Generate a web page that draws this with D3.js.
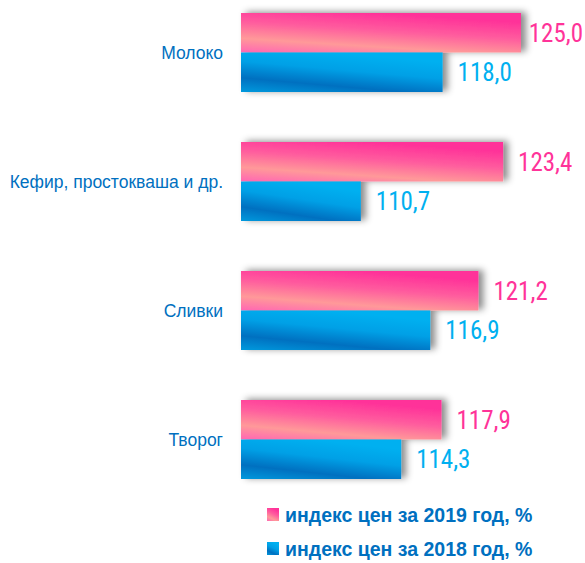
<!DOCTYPE html>
<html>
<head>
<meta charset="utf-8">
<script src="https://d3js.org/d3.v7.min.js"></script>
<style>
	body, html {
		margin: 0;
		padding: 0;
		background: #fff;
	}
	.cat-label {
		font-family: "Liberation Sans", Arial, sans-serif;
		font-size: 17.5px;
		fill: #0070C0;
		text-anchor: end;
	}
	.val-label {
		font-family: "Liberation Sans Narrow", "Roboto Condensed", "Arial Narrow", sans-serif;
		font-size: 25px;
	}
	.legend-text {
		font-family: "Liberation Sans", Arial, sans-serif;
		font-weight: bold;
		font-size: 19.5px;
		fill: #0070C0;
	}
</style>
</head>
<body>
<script>
	var categories = ["Молоко", "Кефир, простокваша и др.", "Сливки", "Творог"];
	var series = ["2019", "2018"];
	var values2019 = [125.0, 123.4, 121.2, 117.9];
	var values2018 = [118.0, 110.7, 116.9, 114.3];
	var legendLabels = ["индекс цен за 2019 год, %", "индекс цен за 2018 год, %"];

	var w = 585, h = 563;
	var margin = {top: 13, left: 241};

	var data = categories.map(function(c, i) {
		return {key: c, values: [
			{s: "2019", v: values2019[i]},
			{s: "2018", v: values2018[i]}
		]};
	});

	var x = d3.scaleLinear()
		.domain([100, 125])
		.range([0, 280]);

	// 129px per group, 79px of bars in each
	var y = d3.scaleBand()
		.domain(categories)
		.range([0, 3 * 129 + 79])
		.paddingInner(50 / 129)
		.paddingOuter(0);

	var ySub = d3.scaleBand()
		.domain(series)
		.range([0, y.bandwidth()]);

	var fillColor = {"2019": "url(#gradPink)", "2018": "url(#gradBlue)"};
	var textColor = {"2019": "#FF3399", "2018": "#00B0F0"};

	var svg = d3.select("body").append("svg")
		.attr("width", w)
		.attr("height", h);

	var defs = svg.append("defs");

	var gp = defs.append("linearGradient")
		.attr("id", "gradPink")
		.attr("x1", "0").attr("y1", "1").attr("x2", "0.45").attr("y2", "0");
	gp.append("stop").attr("offset", "0").attr("stop-color", "#FF66B3");
	gp.append("stop").attr("offset", "0.3").attr("stop-color", "#FF9999");
	gp.append("stop").attr("offset", "0.65").attr("stop-color", "#FF5C9E");
	gp.append("stop").attr("offset", "1").attr("stop-color", "#FF3399");

	var gb = defs.append("linearGradient")
		.attr("id", "gradBlue")
		.attr("x1", "0").attr("y1", "1").attr("x2", "0.45").attr("y2", "0");
	gb.append("stop").attr("offset", "0").attr("stop-color", "#0099DD");
	gb.append("stop").attr("offset", "0.3").attr("stop-color", "#0070C0");
	gb.append("stop").attr("offset", "0.65").attr("stop-color", "#00A0E6");
	gb.append("stop").attr("offset", "1").attr("stop-color", "#00B0F0");

	var shadow = defs.append("filter")
		.attr("id", "shadow")
		.attr("x", "-20%").attr("y", "-40%")
		.attr("width", "140%").attr("height", "180%");
	shadow.append("feDropShadow")
		.attr("dx", 5).attr("dy", -1)
		.attr("stdDeviation", 3.5)
		.attr("flood-color", "#000")
		.attr("flood-opacity", 0.45);

	var chart = svg.append("g")
		.attr("transform", "translate(" + margin.left + "," + margin.top + ")");

	var groups = chart.selectAll(".group")
		.data(data)
		.enter().append("g")
		.attr("class", "group")
		.attr("transform", function(d) { return "translate(0," + y(d.key) + ")"; });

	groups.append("g")
		.attr("filter", "url(#shadow)")
		.selectAll("rect")
		.data(function(d) { return d.values; })
		.enter().append("rect")
		.attr("x", 0)
		.attr("y", function(d) { return ySub(d.s); })
		.attr("width", function(d) { return x(d.v); })
		.attr("height", ySub.bandwidth())
		.attr("fill", function(d) { return fillColor[d.s]; });

	groups.selectAll(".val-label")
		.data(function(d) { return d.values; })
		.enter().append("text")
		.attr("class", "val-label")
		.attr("x", function(d) { return x(d.v) + 15; })
		.attr("y", function(d) { return ySub(d.s) + ySub.bandwidth() / 2; })
		.attr("dy", "0.36em")
		.style("fill", function(d) { return textColor[d.s]; })
		.text(function(d) { return d.v.toFixed(1).replace(".", ","); })
		.each(function() {
			// keep labels inside the picture
			var len = this.getComputedTextLength();
			var xx = +d3.select(this).attr("x");
			var maxX = w - margin.left - len - 2;
			if (xx > maxX) d3.select(this).attr("x", maxX);
		});

	groups.append("text")
		.attr("class", "cat-label")
		.attr("x", -18)
		.attr("y", y.bandwidth() / 2)
		.attr("dy", "0.35em")
		.text(function(d) { return d.key; });

	// legend
	var legend = svg.append("g")
		.attr("transform", "translate(267,508)");

	var li = legend.selectAll(".li")
		.data(series)
		.enter().append("g")
		.attr("transform", function(d, i) { return "translate(0," + (i * 34) + ")"; });

	li.append("rect")
		.attr("width", 12)
		.attr("height", 13)
		.attr("fill", function(d) { return fillColor[d]; });

	li.append("text")
		.attr("class", "legend-text")
		.attr("x", 18)
		.attr("y", 7)
		.attr("dy", "0.36em")
		.text(function(d, i) { return legendLabels[i]; });
</script>
</body>
</html>
